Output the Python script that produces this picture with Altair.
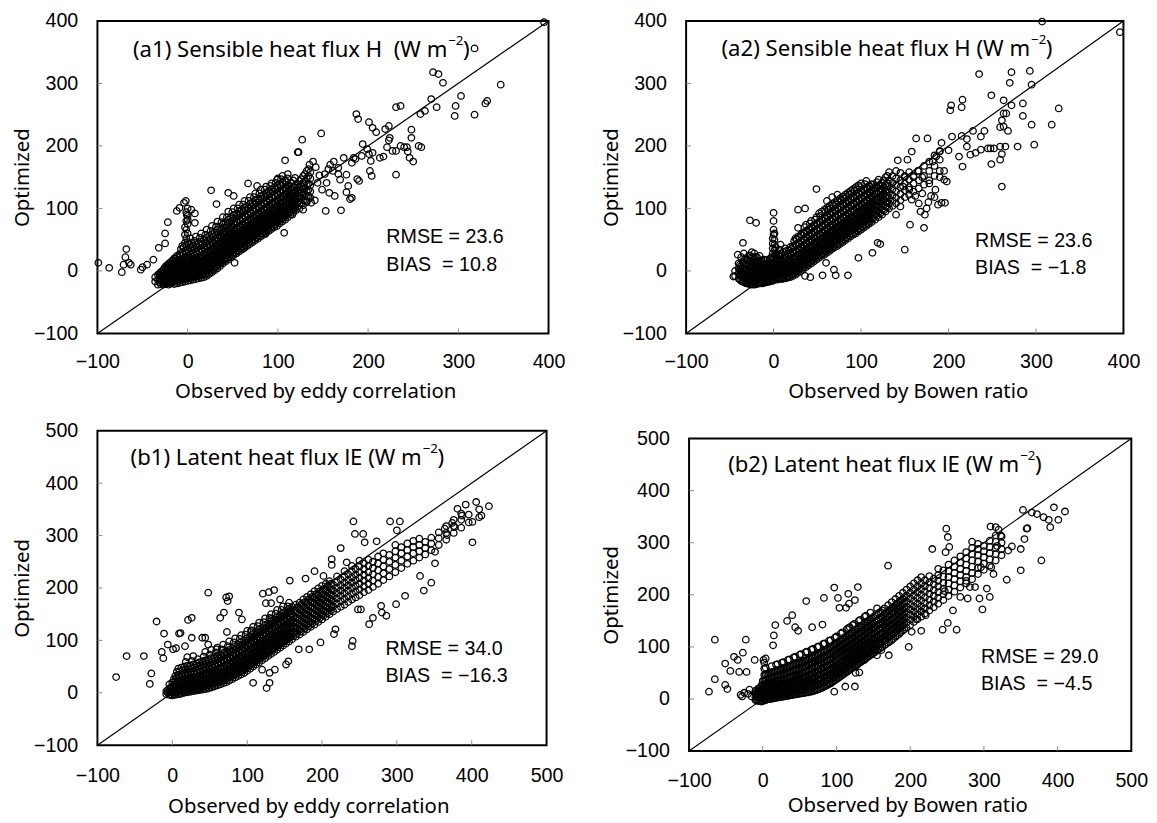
import altair as alt
import pandas as pd

# ---------------- data ----------------
# dense cores given as (observed x, [optimized y values ...]) columns; sparse points as (x, y) pairs
a1_core = [
    (-36, [-17, -10]), (-33, [-22, -14, -6]), (-30, [-21, -15, -8, -2]),
    (-27, [-22, -17, -11, -5, 2]), (-24, [-21, -16, -10, -4, 3, 8]),
    (-21, [-22, -18, -12, -6, 0, 6, 12]), (-18, [-20, -15, -9, -3, 3, 9, 15]),
    (-15, [-21, -16, -11, -5, 1, 7, 13, 20]), (-12, [-20, -14, -8, -2, 4, 10, 16, 24]),
    (-9, [-19, -13, -7, -1, 5, 11, 18, 27]), (-6, [-18, -12, -6, 0, 6, 12, 19, 30, 40]),
    (-3, [-17, -11, -5, 1, 7, 14, 22, 32, 45, 58, 70]),
    (0, [-16, -10, -4, 2, 9, 16, 24, 34, 46, 60, 75, 88, 100]),
    (3, [-15, -9, -3, 3, 10, 18, 27, 38, 52]), (6, [-14, -8, -2, 4, 11, 19, 28, 40]),
    (9, [-13, -7, -1, 6, 13, 21, 30, 42, 55]), (12, [-12, -6, 0, 7, 14, 22, 32, 44]),
    (15, [-11, -4, 3, 10, 17, 25, 35, 47, 60]), (18, [-10, -3, 4, 11, 19, 27, 37, 50]),
    (21, [-8, -1, 6, 13, 21, 30, 40, 53, 66]), (24, [-5, 2, 9, 16, 24, 33, 43, 56]),
    (27, [-2, 5, 12, 19, 27, 36, 46, 59, 72]), (30, [1, 8, 15, 22, 30, 39, 49, 62]),
    (33, [4, 11, 18, 26, 34, 43, 53, 66, 79]), (36, [8, 15, 22, 30, 38, 47, 57, 70]),
    (39, [12, 19, 26, 34, 42, 51, 61, 74, 86]), (42, [15, 22, 30, 38, 46, 55, 65, 78]),
    (45, [18, 26, 34, 42, 50, 59, 69, 82, 95]), (48, [22, 30, 38, 46, 54, 63, 73, 86]),
    (51, [25, 33, 41, 49, 57, 66, 76, 89, 100]), (54, [28, 36, 44, 52, 60, 69, 79, 92]),
    (57, [31, 39, 47, 55, 63, 72, 82, 95, 106]), (60, [34, 42, 50, 58, 66, 75, 85, 98]),
    (63, [37, 45, 53, 61, 69, 78, 88, 101, 112]), (66, [40, 48, 56, 64, 72, 81, 91, 104]),
    (69, [43, 51, 59, 67, 75, 84, 94, 107, 118]), (72, [46, 54, 62, 70, 78, 87, 97, 110]),
    (75, [49, 57, 65, 73, 81, 90, 100, 113, 124]), (78, [52, 60, 68, 76, 84, 93, 103, 116]),
    (81, [55, 63, 71, 79, 87, 96, 106, 119, 130]), (84, [58, 66, 74, 82, 90, 99, 109, 122]),
    (87, [61, 69, 77, 85, 93, 102, 112, 125, 135]), (90, [64, 72, 80, 88, 96, 105, 115, 128]),
    (93, [67, 75, 83, 91, 99, 108, 118, 131, 140]), (96, [70, 78, 86, 94, 102, 111, 121, 134]),
    (99, [72, 80, 88, 96, 104, 113, 123, 136, 146]), (102, [76, 84, 92, 100, 108, 117, 127, 139]),
    (105, [79, 87, 95, 103, 111, 120, 130, 142, 152]), (108, [82, 90, 98, 106, 114, 123, 133, 145]),
    (111, [86, 94, 102, 110, 118, 127, 137, 148]), (114, [90, 98, 106, 114, 122, 131, 141]),
    (117, [93, 101, 109, 117, 125, 134, 145]), (120, [97, 105, 113, 121, 129, 138]),
    (124, [100, 108, 116, 125, 134, 144]), (128, [105, 113, 122, 131, 141, 152]),
    (132, [110, 119, 128, 138, 149, 160]), (136, [117, 127, 137, 148, 158]),
]
a1_core_fill = [
    (-31.5, [-18, -11, -5]), (-28.5, [-19, -13, -8, -1]), (-25.5, [-19, -13, -7, -1, 5]),
    (-22.5, [-20, -14, -9, -3, 3, 9]), (-19.5, [-19, -13, -6, 0, 6, 12]),
    (-16.5, [-18, -13, -7, -1, 5, 11, 17]), (-13.5, [-17, -11, -5, 1, 7, 13, 20]),
    (-10.5, [-16, -10, -4, 2, 8, 14, 22]), (-7.5, [-15, -9, -3, 3, 9, 15, 24, 35]),
    (-4.5, [-14, -8, -2, 4, 10, 17, 26, 38]),
    (-1.5, [-13, -7, -1, 5, 12, 20, 29, 40, 52, 66, 80, 94]),
    (1.5, [-12, -6, 0, 6, 13, 21, 30, 42]), (4.5, [-11, -5, 1, 7, 14, 23, 33, 45]),
    (7.5, [-10, -4, 2, 9, 17, 25, 35, 48]), (10.5, [-9, -3, 4, 10, 18, 26, 37]),
    (13.5, [-8, -1, 6, 13, 21, 30, 41, 53]), (16.5, [-7, 0, 7, 14, 22, 31, 42]),
    (19.5, [-6, 2, 9, 17, 25, 34, 45, 58]), (22.5, [-3, 5, 12, 20, 28, 37, 48]),
    (25.5, [0, 8, 15, 23, 31, 40, 51, 64]), (28.5, [3, 11, 18, 26, 34, 44, 55]),
    (31.5, [6, 14, 22, 30, 38, 48, 58, 71]), (34.5, [10, 18, 26, 34, 42, 52, 62]),
    (37.5, [13, 21, 29, 37, 45, 55, 66, 78]), (40.5, [17, 25, 33, 41, 49, 59, 69]),
    (43.5, [20, 28, 36, 44, 53, 62, 73, 86]), (46.5, [24, 32, 40, 48, 57, 66, 77]),
    (49.5, [27, 35, 43, 52, 61, 70, 81, 94]), (52.5, [30, 38, 46, 55, 64, 74, 84]),
    (55.5, [33, 41, 49, 58, 67, 77, 88, 100]), (58.5, [36, 44, 52, 61, 70, 80, 91]),
    (61.5, [39, 47, 55, 64, 73, 83, 94, 106]), (64.5, [42, 50, 58, 67, 76, 86, 97]),
    (67.5, [45, 53, 61, 70, 79, 89, 100, 112]), (70.5, [48, 56, 64, 73, 82, 92, 103]),
    (73.5, [51, 59, 67, 76, 85, 95, 106, 118]), (76.5, [54, 62, 70, 79, 88, 98, 109]),
    (79.5, [57, 65, 73, 82, 91, 101, 112, 124]), (82.5, [60, 68, 76, 85, 94, 104, 115]),
    (85.5, [63, 71, 79, 88, 97, 107, 118, 130]), (88.5, [66, 74, 82, 91, 100, 110, 121]),
    (91.5, [69, 77, 85, 94, 103, 113, 124, 136]), (94.5, [72, 80, 88, 97, 106, 116, 127]),
    (97.5, [75, 83, 91, 100, 109, 119, 130, 141]), (100.5, [79, 87, 95, 104, 113, 122, 133]),
    (103.5, [82, 90, 98, 107, 116, 125, 136, 147]), (106.5, [85, 93, 101, 110, 119, 128, 139]),
    (109.5, [89, 97, 105, 114, 122, 132, 142]), (112.5, [93, 101, 109, 118, 127, 136]),
    (115.5, [96, 104, 112, 121, 130, 140]), (118.5, [100, 108, 117, 125, 134]),
    (122, [103, 112, 120, 130, 139]), (126, [108, 117, 126, 136, 147]),
    (130, [113, 122, 132, 143]), (134, [120, 130, 140, 152]),
]
a1_extra = [
    (-99, 13), (-87, 5), (-73, -2), (-71, 10), (-69, 22), (-68, 35), (-65, 13), (-63, 10),
    (-52, 2), (-50, 6), (-45, 10), (-38, 18), (-32, 37), (-25, 44), (-25, 60), (-22, 78),
    (-12, 96), (-9, 101), (-4, 109), (-2, 112), (-1, 90), (0, 82), (4, 98), (8, 92), (8, 77),
    (26, 129), (32, 107), (45, 125), (51, 120), (52, 13), (62, 36), (67, 140), (77, 136), (100, 148),
    (107, 61), (108, 177), (116, 90), (122, 190), (127, 210), (135, 170), (148, 220), (149, 130),
    (153, 96), (157, 125), (163, 120), (170, 97), (176, 126), (182, 117), (187, 251), (189, 243),
    (188, 147), (201, 238), (202, 160), (205, 229), (205, 189), (209, 222),
    (219, 227), (223, 232), (231, 154), (231, 262), (236, 264), (246, 181), (248, 226), (248, 213),
    (250, 175), (256, 200), (259, 198), (258, 251), (263, 256), (270, 275), (276, 262), (272, 318),
    (278, 315), (283, 301), (296, 248), (297, 264), (303, 280), (318, 250), (318, 356), (330, 268),
    (332, 272), (347, 298), (395, 398),
    (213, 181), (217, 183), (221, 198), (223, 209), (224, 213), (227, 192), (231, 192), (236, 200),
    (240, 198), (244, 191), (243, 198),
    (161, 160), (167, 165), (173, 181), (182, 173), (186, 179), (193, 184), (194, 203), (199, 195),
    (201, 187), (203, 176),
    (111, 155), (119, 149), (123, 190), (130, 155), (134, 163), (139, 175), (142, 166), (144, 141),
    (146, 153), (152, 155), (154, 141), (156, 163), (158, 170), (162, 175), (167, 155), (169, 146),
    (176, 154), (178, 136), (184, 181), (190, 144), (204, 152),
    (132, 112), (137, 109), (141, 113), (180, 115), (123, 117), (128, 98), (96, 85), (84, 64), (86, 59),
]

a2_core = [
    (-44, [-8, 0]), (-40, [-12, -4, 4, 12]), (-37, [-16, -8, 0, 8, 22]),
    (-34, [-18, -11, -4, 4, 12, 28]), (-31, [-20, -13, -6, 2, 10, 18]),
    (-28, [-21, -14, -7, 0, 8, 16, 25]), (-25, [-22, -15, -8, -1, 6, 14, 22, 30]),
    (-22, [-22, -15, -8, -1, 6, 13, 20, 28]), (-19, [-21, -14, -7, 0, 7, 14, 22]),
    (-16, [-20, -13, -6, 1, 8, 15, 24]), (-13, [-20, -13, -6, 1, 8, 16]),
    (-10, [-19, -12, -5, 2, 9, 17]), (-7, [-18, -11, -4, 3, 10, 18]),
    (-4, [-17, -10, -3, 4, 11, 19]), (-1, [-16, -9, -2, 5, 12, 20, 28, 36, 44, 52]),
    (1, [-14, -7, 0, 7, 15, 24, 33, 42, 50, 60]), (4, [-14, -7, 0, 7, 14, 22]),
    (7, [-13, -6, 1, 8, 15, 24, 34]), (10, [-13, -6, 1, 8, 16, 25]),
    (13, [-12, -5, 2, 9, 17, 26, 36]), (16, [-11, -4, 3, 10, 18, 27]),
    (19, [-10, -3, 4, 11, 19, 28, 38]), (22, [-8, -1, 6, 13, 21, 30, 40]),
    (25, [-6, 1, 8, 15, 23, 32, 42, 52]), (28, [-3, 4, 11, 18, 26, 35, 45, 55]),
    (31, [0, 7, 14, 21, 29, 38, 48, 58]), (34, [3, 10, 17, 24, 32, 41, 51, 61]),
    (37, [6, 13, 20, 27, 35, 44, 54, 64, 74]), (40, [9, 16, 23, 30, 38, 47, 57, 67]),
    (43, [12, 19, 26, 33, 41, 50, 60, 70, 80]), (46, [15, 22, 29, 36, 44, 53, 63, 73]),
    (49, [18, 25, 32, 39, 47, 56, 66, 76, 86]), (52, [21, 28, 35, 42, 50, 59, 69, 79, 92]),
    (55, [24, 31, 38, 45, 53, 62, 72, 82, 95]), (58, [26, 33, 40, 48, 56, 65, 75, 85, 98]),
    (61, [29, 36, 43, 51, 59, 68, 78, 88, 101, 112]), (64, [32, 39, 46, 54, 62, 71, 81, 91, 104]),
    (67, [35, 42, 49, 57, 65, 74, 84, 94, 107, 118]), (70, [38, 45, 52, 60, 68, 77, 87, 97, 110]),
    (73, [40, 48, 55, 63, 71, 80, 90, 100, 113, 122]), (76, [43, 51, 58, 66, 74, 83, 93, 103, 116]),
    (79, [46, 54, 61, 69, 77, 86, 96, 106, 119]), (82, [49, 57, 64, 72, 80, 89, 99, 109, 122]),
    (85, [52, 60, 67, 75, 83, 92, 102, 112, 125]), (88, [55, 63, 70, 78, 86, 95, 105, 115, 128]),
    (91, [58, 66, 73, 81, 89, 98, 108, 118, 131]), (94, [60, 68, 76, 84, 92, 101, 111, 121, 134]),
    (97, [63, 71, 79, 87, 95, 104, 114, 124, 137]), (100, [66, 74, 82, 90, 98, 107, 117, 127, 140]),
    (103, [69, 77, 85, 93, 101, 110, 120, 130]), (106, [72, 80, 88, 96, 104, 113, 123, 133, 144]),
    (109, [75, 83, 91, 99, 107, 116, 126, 136]), (112, [78, 86, 94, 102, 110, 119, 129, 139]),
    (116, [82, 90, 98, 106, 114, 123, 133]), (120, [86, 94, 102, 110, 118, 127, 137, 146]),
    (124, [90, 98, 106, 114, 122, 131, 141]), (128, [95, 103, 111, 119, 128, 138, 150]),
    (132, [100, 108, 116, 125, 135, 145, 158]), (136, [104, 112, 121, 131, 141, 152]),
    (140, [108, 117, 127, 137, 148, 160]), (145, [113, 123, 134, 145, 157]),
    (150, [118, 129, 140, 152]), (155, [122, 134, 146, 158]), (160, [127, 140, 152]),
    (166, [132, 145, 160]), (172, [138, 152, 168]), (178, [145, 160, 175]),
    (184, [152, 168, 185]), (190, [160, 178, 192]),
]
a2_core_fill = [
    (-38.5, [-14, -6, 2, 10]), (-35.5, [-17, -9, -2, 6, 15]), (-32.5, [-19, -12, -5, 3, 11, 20]),
    (-29.5, [-20, -13, -6, 1, 9, 17]), (-26.5, [-21, -14, -7, 0, 7, 15, 24]),
    (-23.5, [-21, -14, -7, 0, 7, 14, 22]), (-20.5, [-20, -13, -6, 1, 8, 15, 23]),
    (-17.5, [-20, -13, -6, 1, 8, 16]), (-14.5, [-19, -12, -5, 2, 9, 17]),
    (-11.5, [-18, -11, -4, 3, 10, 18]), (-8.5, [-17, -10, -3, 4, 11]), (-5.5, [-16, -9, -2, 5, 12]),
    (-2.5, [-15, -8, -1, 6, 13, 22]), (2.5, [-13, -6, 1, 8, 16, 25, 38]),
    (5.5, [-12, -5, 2, 9, 17, 26]), (8.5, [-12, -5, 2, 10, 18, 28]), (11.5, [-11, -4, 3, 11, 20, 30]),
    (14.5, [-10, -3, 5, 13, 22, 32]), (17.5, [-9, -2, 6, 14, 23, 33]), (20.5, [-6, 1, 9, 17, 26, 36]),
    (23.5, [-4, 3, 11, 19, 28, 38, 48]), (26.5, [-1, 6, 14, 22, 31, 41, 51]),
    (29.5, [2, 9, 17, 25, 34, 44, 54]), (32.5, [5, 12, 20, 28, 37, 47, 57]),
    (35.5, [8, 15, 23, 31, 40, 50, 60, 70]), (38.5, [11, 18, 26, 34, 43, 53, 63]),
    (41.5, [14, 21, 29, 37, 46, 56, 66, 76]), (44.5, [17, 24, 32, 40, 49, 59, 69]),
    (47.5, [20, 27, 35, 43, 52, 62, 72, 82]), (50.5, [23, 30, 38, 46, 55, 65, 75]),
    (53.5, [26, 33, 41, 49, 58, 68, 78, 88]), (56.5, [28, 36, 44, 52, 61, 71, 81]),
    (59.5, [31, 39, 47, 55, 64, 74, 84, 94]), (62.5, [34, 42, 50, 58, 67, 77, 87, 98]),
    (65.5, [37, 45, 53, 61, 70, 80, 90, 100]), (68.5, [40, 48, 56, 64, 73, 83, 93, 104]),
    (71.5, [42, 50, 58, 67, 76, 86, 96, 106]), (74.5, [45, 53, 61, 70, 79, 89, 99, 110]),
    (77.5, [48, 56, 64, 73, 82, 92, 102, 112]), (80.5, [51, 59, 67, 76, 85, 95, 105, 116]),
    (83.5, [54, 62, 70, 79, 88, 98, 108, 118]), (86.5, [57, 65, 73, 82, 91, 101, 111, 122]),
    (89.5, [60, 68, 76, 85, 94, 104, 114, 124]), (92.5, [62, 71, 79, 88, 97, 107, 117, 128]),
    (95.5, [65, 74, 82, 91, 100, 110, 120, 130]), (98.5, [68, 77, 85, 94, 103, 113, 123, 134]),
    (101.5, [71, 80, 88, 97, 106, 116, 126]), (104.5, [74, 83, 91, 100, 109, 119, 129, 139]),
    (107.5, [77, 86, 94, 103, 112, 122, 132]), (110.5, [80, 89, 97, 106, 115, 125, 135]),
    (114, [84, 93, 101, 110, 119, 129, 138]), (118, [88, 97, 105, 114, 123, 133, 142]),
    (122, [92, 101, 110, 119, 128, 137]), (126, [97, 106, 115, 124, 134, 145]),
    (130, [102, 111, 120, 130, 140, 152]),
]
a2_extra = [
    (307, 399), (396, 382), (235, 315), (249, 281), (272, 318), (270, 301), (293, 320), (295, 298),
    (202, 257), (203, 265), (216, 274), (215, 262), (263, 273), (272, 265), (285, 268), (326, 260),
    (318, 234), (295, 234), (261, 241), (263, 252), (266, 252), (259, 230), (268, 224), (263, 231),
    (285, 248), (298, 202), (279, 199), (265, 199), (259, 199), (252, 196), (248, 196), (245, 196),
    (237, 194), (249, 171), (261, 187), (259, 178), (261, 135), (216, 167), (231, 189), (221, 199),
    (225, 186), (212, 183), (228, 224), (237, 215), (241, 224), (221, 211), (215, 216), (204, 215),
    (200, 193), (192, 205), (190, 191), (186, 183), (182, 175), (198, 143), (195, 146), (192, 109),
    (196, 109), (188, 106), (176, 212), (163, 212), (158, 191), (153, 178), (142, 177), (170, 124),
    (172, 69), (158, 114), (156, 74), (150, 34), (145, 103), (140, 90),
    (122, 43), (119, 45), (113, 29), (97, 21), (85, -7), (71, -7), (69, 2), (56, -7), (60, 13),
    (42, -10), (36, -8), (28, 98), (36, 100), (28, 69), (49, 131),
    (-27, 81), (-20, 77), (-35, 45), (-41, 26), (-46, -9),
    (0, 93), (0, 80), (0, 66), (0, 58), (8, 42),
    (165, 160), (170, 150), (178, 140), (185, 130), (175, 100), (168, 95), (180, 120), (190, 150),
    (195, 160), (160, 150), (150, 150), (148, 135), (155, 130), (162, 120), (166, 108), (173, 90),
    (177, 110), (184, 118),
]

b1_core = [
    (-8, [-3, 3]), (-4, [-4, 2, 8, 16]), (0, [-5, 0, 6, 12, 20]), (4, [-4, 2, 8, 14, 22, 32]),
    (8, [-3, 3, 9, 16, 24, 34, 46]), (12, [-2, 4, 10, 17, 25, 35, 48]),
    (16, [0, 6, 12, 19, 27, 37, 50]), (20, [1, 7, 13, 20, 28, 38, 52, 68]),
    (24, [2, 8, 14, 21, 29, 39, 52]), (28, [3, 9, 15, 22, 30, 40, 54, 70]),
    (32, [4, 10, 16, 23, 31, 42, 56]), (36, [5, 11, 17, 24, 33, 44, 58]),
    (40, [6, 12, 18, 26, 35, 46, 60]), (44, [7, 13, 20, 28, 37, 48, 62, 78]),
    (48, [8, 15, 22, 30, 39, 50, 64]), (52, [10, 17, 24, 32, 41, 52, 66, 82]),
    (56, [12, 19, 26, 34, 43, 54, 68]), (60, [14, 21, 28, 36, 45, 56, 70, 86]),
    (64, [16, 23, 30, 38, 48, 59, 73]), (68, [18, 25, 33, 41, 51, 62, 76, 92]),
    (72, [20, 28, 36, 44, 54, 65, 79]), (76, [23, 31, 39, 47, 57, 68, 82, 98]),
    (80, [26, 34, 42, 50, 60, 71, 85]), (84, [29, 37, 45, 54, 64, 75, 89, 104]),
    (88, [32, 40, 48, 57, 67, 78, 92]), (92, [35, 43, 52, 61, 71, 82, 96, 110]),
    (96, [38, 47, 56, 65, 75, 86, 100]), (100, [42, 51, 60, 69, 79, 90, 104, 118]),
    (104, [46, 55, 64, 73, 83, 94, 108]), (108, [50, 59, 68, 77, 87, 98, 112, 126]),
    (112, [54, 63, 72, 81, 91, 102, 116]), (116, [58, 67, 76, 85, 95, 106, 120, 134]),
    (120, [62, 71, 80, 89, 99, 110, 124]), (124, [66, 75, 84, 93, 103, 114, 128, 142]),
    (128, [70, 79, 88, 97, 107, 118, 132]), (132, [74, 83, 92, 101, 111, 122, 136, 150]),
    (136, [78, 87, 96, 105, 115, 126, 140]), (140, [82, 91, 100, 109, 119, 130, 144, 158]),
    (144, [86, 95, 104, 113, 123, 134, 148]), (148, [90, 99, 108, 117, 127, 138, 152, 165]),
    (152, [94, 103, 112, 121, 131, 142, 156]), (156, [98, 107, 116, 125, 135, 146, 160, 172]),
    (160, [102, 111, 120, 129, 139, 150, 164]), (165, [107, 116, 125, 134, 144, 155, 168]),
    (170, [111, 120, 129, 139, 149, 160, 172]), (175, [116, 125, 134, 144, 154, 165, 178]),
    (180, [121, 130, 139, 149, 159, 170, 183]), (185, [126, 135, 144, 154, 164, 175, 188]),
    (190, [130, 140, 150, 160, 170, 181, 194]), (195, [135, 145, 155, 165, 175, 186, 199]),
    (200, [140, 150, 160, 170, 180, 191, 204]), (205, [145, 155, 165, 175, 185, 196, 208]),
    (210, [150, 160, 170, 180, 190, 201, 213]), (215, [155, 165, 175, 185, 195, 206]),
    (220, [160, 170, 180, 190, 200, 211, 222]), (225, [164, 175, 185, 195, 205, 216]),
    (230, [168, 179, 190, 200, 210, 221, 232]), (235, [173, 184, 195, 205, 215, 226]),
    (240, [178, 189, 200, 210, 220, 231, 242]), (245, [182, 193, 204, 215, 225, 236]),
    (250, [186, 197, 208, 219, 230, 241, 252]), (256, [192, 203, 214, 225, 236, 247]),
    (262, [196, 208, 219, 230, 242, 254]), (268, [202, 214, 226, 238, 250]),
    (275, [208, 221, 234, 247, 260]), (282, [215, 228, 241, 254, 266]),
    (290, [222, 236, 250, 263]), (298, [230, 244, 258, 270, 282]),
    (306, [238, 252, 266, 278]), (314, [246, 260, 272, 285]), (322, [252, 266, 278, 290]),
    (330, [258, 270, 282, 294]), (338, [264, 276, 288]), (346, [272, 285, 296]),
    (356, [282, 295, 306]), (366, [292, 305, 318]), (376, [305, 318, 330]),
    (386, [315, 330, 342]), (396, [325, 340]), (410, [335, 350]),
]
b1_core_fill = [
    (-6, [0, 5]), (-2, [-3, 3, 10]), (2, [-3, 3, 9, 16, 26]), (6, [-2, 5, 11, 19, 28, 40]),
    (10, [-1, 6, 13, 20, 30, 41]), (14, [1, 8, 15, 22, 31, 43]), (18, [2, 9, 16, 24, 33, 44, 59]),
    (22, [4, 11, 17, 25, 34, 45]), (26, [5, 12, 18, 26, 35, 47, 61]), (30, [6, 13, 19, 27, 36, 48]),
    (34, [7, 14, 20, 29, 38, 50, 64]), (38, [8, 15, 21, 30, 39, 51]),
    (42, [9, 16, 23, 32, 42, 54, 69]), (46, [11, 18, 26, 34, 44, 56]),
    (50, [13, 20, 28, 36, 46, 58, 73]), (54, [15, 22, 30, 38, 48, 60]),
    (58, [17, 24, 32, 40, 50, 62, 77]), (62, [19, 26, 34, 43, 53, 65]),
    (66, [21, 29, 37, 46, 56, 68, 83]), (70, [24, 32, 40, 49, 59, 71]),
    (74, [27, 35, 43, 52, 62, 74, 89]), (78, [30, 38, 46, 55, 65, 77]),
    (82, [33, 41, 49, 59, 69, 81, 96]), (86, [36, 44, 52, 62, 72, 84]),
    (90, [39, 47, 56, 66, 76, 88, 103]), (94, [42, 51, 60, 70, 80, 92]),
    (98, [46, 55, 64, 74, 84, 96, 111]), (102, [50, 59, 68, 78, 88, 100]),
    (106, [54, 63, 72, 82, 92, 104, 119]), (110, [58, 67, 76, 86, 96, 108]),
    (114, [62, 71, 80, 90, 100, 112, 127]), (118, [66, 75, 84, 94, 104, 116]),
    (122, [70, 79, 88, 98, 108, 120, 135]), (126, [74, 83, 92, 102, 112, 124]),
    (130, [78, 87, 96, 106, 116, 128, 143]), (134, [82, 91, 100, 110, 120, 132]),
    (138, [86, 95, 104, 114, 124, 136, 151]), (142, [90, 99, 108, 118, 128, 140]),
    (146, [94, 103, 112, 122, 132, 144, 158]), (150, [98, 107, 116, 126, 136, 148]),
    (154, [102, 111, 120, 130, 140, 152, 165]), (158, [106, 115, 124, 134, 144, 156]),
    (162, [108, 118, 127, 137, 147, 158]), (167, [113, 122, 132, 142, 152, 163]),
    (172, [117, 127, 137, 147, 157, 168]), (177, [122, 132, 142, 152, 162, 173]),
    (182, [127, 137, 147, 157, 167, 178]), (187, [132, 142, 152, 162, 172, 183]),
    (192, [137, 147, 157, 167, 177, 188]), (197, [142, 152, 162, 172, 182, 193]),
    (202, [147, 157, 167, 177, 187, 198]), (207, [152, 162, 172, 182, 192, 203]),
    (212, [157, 167, 177, 187, 197, 208]),
]
b1_extra = [
    (-75, 30), (-61, 70), (-38, 70), (-28, 37), (-30, 17), (-21, 136), (-11, 113), (-14, 78),
    (-12, 66), (-6, 92), (1, 83), (5, 85), (9, 113), (11, 114), (17, 89), (21, 139), (26, 143),
    (26, 105), (40, 105), (44, 105), (48, 191), (48, 92), (59, 83), (64, 143), (72, 182), (74, 175),
    (76, 184), (69, 153), (73, 116), (89, 153), (93, 140), (105, 118),
    (121, 189), (129, 192), (136, 196), (125, 171), (132, 171), (144, 178), (157, 214), (132, 141),
    (126, 9), (130, 19), (130, 38), (120, 44), (137, 44), (152, 54), (155, 60), (108, 19),
    (169, 83), (183, 83), (198, 96),
    (178, 218), (190, 232), (202, 223), (213, 163), (216, 112), (218, 121), (225, 276), (213, 255),
    (213, 244), (233, 249), (240, 89), (241, 99),
    (242, 327), (244, 303), (255, 303), (257, 287), (248, 159), (252, 159), (263, 131), (268, 143),
    (273, 289), (280, 153), (279, 166), (291, 327), (304, 327), (300, 310), (299, 169), (311, 185),
    (286, 147), (331, 223), (336, 195), (346, 210), (351, 247), (351, 269),
    (364, 313), (374, 324), (381, 351), (392, 359), (406, 364), (423, 356), (413, 338), (401, 326),
    (401, 287), (367, 301), (377, 316), (387, 338),
]

b2_core = [
    (-10, [-2, 4, 10, 16]), (-6, [-4, 2, 8, 14, 20]), (-2, [-5, 1, 7, 13, 19, 26]),
    (2, [-3, 3, 9, 15, 21, 28, 36, 46, 58, 70]), (6, [-1, 5, 11, 17, 23, 30, 38, 48]),
    (10, [0, 6, 12, 18, 24, 31, 40, 50]), (14, [1, 7, 13, 19, 25, 32, 42, 52]),
    (18, [2, 8, 14, 20, 26, 34, 43, 54, 66]), (22, [3, 9, 15, 21, 28, 35, 45, 56]),
    (26, [4, 10, 16, 22, 29, 37, 47, 58, 70]), (30, [5, 11, 17, 23, 30, 38, 48, 60]),
    (34, [6, 12, 18, 25, 32, 40, 50, 62, 75]), (38, [7, 13, 19, 26, 33, 42, 52, 64]),
    (42, [8, 14, 20, 27, 35, 44, 54, 66, 80]), (46, [9, 15, 22, 29, 37, 46, 56, 68]),
    (50, [10, 16, 23, 31, 39, 48, 58, 70, 85]), (54, [11, 17, 25, 33, 41, 50, 60, 72]),
    (58, [12, 19, 27, 35, 43, 52, 62, 74, 90]), (62, [13, 21, 29, 37, 45, 55, 65, 77]),
    (66, [14, 23, 31, 39, 48, 58, 68, 80, 95]), (70, [16, 25, 33, 42, 51, 61, 71, 83]),
    (74, [18, 27, 36, 45, 54, 64, 74, 86, 100]), (78, [20, 29, 38, 47, 57, 67, 77, 89]),
    (82, [23, 32, 41, 50, 60, 70, 80, 92, 106]), (86, [26, 35, 44, 53, 63, 73, 83, 95]),
    (90, [29, 38, 47, 56, 66, 76, 86, 98, 112]), (94, [32, 41, 50, 59, 69, 79, 89, 101]),
    (98, [36, 45, 54, 63, 73, 83, 93, 105, 118]), (102, [40, 49, 58, 67, 77, 87, 97, 109]),
    (106, [44, 53, 62, 71, 81, 91, 101, 113, 126]), (110, [48, 57, 66, 75, 85, 95, 105, 117]),
    (114, [52, 61, 70, 79, 89, 99, 109, 121, 134]), (118, [56, 65, 74, 83, 93, 103, 113, 125]),
    (122, [60, 69, 78, 87, 97, 107, 117, 129, 142]), (126, [64, 73, 82, 91, 101, 111, 121, 133]),
    (130, [68, 77, 86, 95, 105, 115, 125, 137, 150]), (134, [72, 81, 90, 99, 109, 119, 129, 141]),
    (138, [76, 85, 94, 103, 113, 123, 133, 145, 158]), (142, [80, 89, 98, 107, 117, 127, 137, 149]),
    (146, [84, 93, 102, 111, 121, 131, 141, 153, 166]), (150, [88, 97, 106, 115, 125, 135, 145, 157]),
    (155, [93, 102, 111, 120, 130, 140, 150, 162, 174]), (160, [98, 107, 116, 125, 135, 145, 155, 167]),
    (165, [103, 112, 121, 131, 141, 151, 162, 174]), (170, [108, 117, 127, 137, 147, 157, 168, 180]),
    (175, [113, 123, 133, 143, 153, 163, 174, 186]), (180, [119, 129, 139, 149, 159, 169, 180, 192]),
    (185, [125, 135, 145, 155, 165, 175, 186, 198]), (190, [131, 141, 151, 161, 171, 181, 192, 204]),
    (195, [137, 147, 157, 167, 177, 187, 198, 210]), (200, [142, 152, 162, 172, 182, 193, 204, 216]),
    (205, [148, 158, 168, 178, 188, 199, 210, 222]), (210, [153, 163, 173, 183, 194, 205, 216, 228]),
    (215, [158, 168, 178, 189, 200, 211, 222, 234]), (220, [164, 174, 184, 195, 206, 217, 228]),
    (226, [170, 180, 191, 202, 213, 224, 236]), (232, [176, 187, 198, 209, 220, 231]),
    (238, [183, 194, 205, 216, 227, 238, 250]), (245, [190, 201, 212, 223, 235, 247]),
    (252, [198, 210, 222, 234, 246, 258]), (260, [206, 218, 230, 242, 254, 266]),
    (268, [214, 226, 238, 250, 262, 274]), (276, [222, 234, 246, 258, 270, 282]),
    (284, [230, 242, 254, 266, 278, 290, 302]), (292, [240, 252, 264, 276, 288, 298]),
    (300, [248, 260, 272, 284, 294]), (308, [256, 268, 280, 292, 304]),
    (316, [266, 278, 290, 302, 314]), (324, [276, 288, 300, 312]),
]
b2_core_fill = [
    (-8, [-3, 3, 9, 15]), (-4, [-4, 2, 8, 14, 21]), (0, [-4, 2, 8, 14, 20, 27, 35]),
    (4, [-2, 4, 10, 16, 22, 29, 37, 47, 60]), (8, [0, 6, 12, 18, 24, 31, 39, 49]),
    (12, [1, 7, 13, 19, 25, 32, 41, 51, 63]), (16, [2, 8, 14, 20, 26, 33, 43, 53]),
    (20, [3, 9, 15, 21, 27, 35, 44, 55, 67]), (24, [4, 10, 16, 22, 29, 36, 46, 57]),
    (28, [5, 11, 17, 23, 30, 38, 47, 59, 71]), (32, [6, 12, 18, 24, 31, 39, 49, 61]),
    (36, [7, 13, 19, 26, 33, 41, 51, 63, 76]), (40, [8, 14, 20, 27, 34, 43, 53, 65]),
    (44, [9, 15, 21, 28, 36, 45, 55, 67, 81]), (48, [10, 16, 23, 30, 38, 47, 57, 69]),
    (52, [11, 17, 24, 32, 40, 49, 59, 71, 86]), (56, [12, 18, 26, 34, 42, 51, 61, 73]),
    (60, [13, 20, 28, 36, 44, 53, 63, 75, 91]), (64, [14, 22, 30, 38, 47, 56, 66, 78]),
    (68, [15, 24, 32, 40, 49, 59, 69, 81, 96]), (72, [17, 26, 34, 43, 52, 62, 72, 84]),
    (76, [19, 28, 37, 46, 55, 65, 75, 87, 101]), (80, [21, 30, 39, 48, 58, 68, 78, 90]),
    (84, [24, 33, 42, 51, 61, 71, 81, 93, 107]), (88, [27, 36, 45, 54, 64, 74, 84, 96]),
    (92, [30, 39, 48, 57, 67, 77, 87, 99, 113]), (96, [34, 43, 52, 61, 71, 81, 91, 103]),
    (100, [38, 47, 56, 65, 75, 85, 95, 107, 120]), (104, [42, 51, 60, 69, 79, 89, 99, 111]),
    (108, [46, 55, 64, 73, 83, 93, 103, 115, 128]), (112, [50, 59, 68, 77, 87, 97, 107, 119]),
    (116, [54, 63, 72, 81, 91, 101, 111, 123, 136]), (120, [58, 67, 76, 85, 95, 105, 115, 127]),
    (124, [62, 71, 80, 89, 99, 109, 119, 131, 144]), (128, [66, 75, 84, 93, 103, 113, 123, 135]),
    (132, [70, 79, 88, 97, 107, 117, 127, 139, 152]), (136, [74, 83, 92, 101, 111, 121, 131, 143]),
    (140, [78, 87, 96, 105, 115, 125, 135, 147, 160]), (144, [82, 91, 100, 109, 119, 129, 139, 151]),
    (148, [86, 95, 104, 113, 123, 133, 143, 155]), (152, [90, 100, 109, 118, 128, 138, 148, 160]),
    (157, [95, 105, 114, 123, 133, 143, 153, 165]), (162, [100, 110, 119, 128, 138, 148, 158, 170]),
    (167, [105, 115, 124, 134, 144, 154, 165]), (172, [110, 120, 130, 140, 150, 160, 171]),
    (177, [116, 126, 136, 146, 156, 166, 177]), (182, [122, 132, 142, 152, 162, 172, 183]),
    (187, [128, 138, 148, 158, 168, 178, 189]), (192, [134, 144, 154, 164, 174, 184, 195]),
]
b2_extra = [
    (-73, 14), (-65, 38), (-65, 114), (-51, 68), (-51, 27), (-48, 19), (-44, 54), (-39, 81),
    (-34, 75), (-30, 8), (-32, 52), (-27, 89), (-23, 114), (-22, 52), (-11, 75), (1, 75), (4, 78),
    (-25, 12), (-20, 10), (-15, 5), (-18, 18), (-28, 5),
    (17, 142), (15, 122), (14, 103), (33, 150), (40, 161), (59, 188), (44, 138), (48, 131),
    (67, 138), (81, 143), (83, 194), (97, 214), (102, 194), (104, 175), (113, 175), (117, 183),
    (129, 215), (116, 202), (125, 190), (118, 138),
    (97, 14), (112, 24), (125, 24), (126, 50), (131, 51), (138, 75), (155, 84), (161, 94),
    (171, 84), (170, 256), (198, 100), (202, 129), (215, 131), (208, 153), (221, 161),
    (244, 133), (251, 146), (263, 133), (258, 170), (247, 207), (249, 327), (251, 311), (253, 292),
    (268, 196), (278, 193), (281, 215), (294, 193), (298, 172), (288, 215), (304, 212), (308, 196),
    (310, 253), (313, 240), (331, 229), (333, 285), (338, 293), (350, 247), (350, 288), (355, 307),
    (378, 266), (309, 331), (316, 330), (320, 325), (323, 314), (318, 294), (353, 363), (358, 327),
    (365, 358), (372, 355), (381, 349), (388, 344), (395, 368), (401, 344), (410, 360), (390, 330),
    (359, 328), (276, 227), (296, 253), (248, 282), (230, 288),
]

a_ticks = [-100, 0, 100, 200, 300, 400]
b_ticks = [-100, 0, 100, 200, 300, 400, 500]

LABEL_FONT = "Liberation Sans, Arial, sans-serif"
TITLE_FONT = "Noto Sans, DejaVu Sans, sans-serif"
NB = "\u00a0"


def build_df(cores, extra):
    xs, ys = [], []
    for core in cores:
        for x, col in core:
            for y in col:
                xs.append(x)
                ys.append(y)
    for x, y in extra:
        xs.append(x)
        ys.append(y)
    return pd.DataFrame({"x": xs, "y": ys})


def text_layer(s, x, y, font, size, align="left"):
    return alt.Chart(pd.DataFrame({"t": [s]})).mark_text(
        font=font, fontSize=size, align=align, baseline="middle", color="black"
    ).encode(text="t:N", x=alt.value(x), y=alt.value(y))


def panel(df, ticks, xtitle, title_main, m_end, title_y, rmse, bias, stat_x, stat_y,
          w, h, ytitle_pad, xlabel_pad, xtitle_pad, xtitle_dx):
    lo, hi = ticks[0], ticks[-1]
    sx = alt.Scale(domain=[lo, hi], nice=False, zero=False)
    sy = alt.Scale(domain=[lo, hi], nice=False, zero=False)
    ax = alt.Axis(values=ticks, title=xtitle, grid=False, ticks=False, tickSize=0, domain=False,
                  labelFlush=False, labelOverlap=False, labelFont=LABEL_FONT, labelFontSize=20,
                  labelColor="black", labelPadding=xlabel_pad, titleFont=TITLE_FONT,
                  titleFontSize=20.7, titleFontWeight="normal", titleColor="black",
                  titlePadding=xtitle_pad, titleX=w / 2 + xtitle_dx)
    ay = alt.Axis(values=ticks, title="Optimized", grid=False, ticks=False, tickSize=0, domain=False,
                  labelFlush=False, labelOverlap=False, labelFont=LABEL_FONT, labelFontSize=20,
                  labelColor="black", labelPadding=20, titleFont=TITLE_FONT, titleFontSize=20.7,
                  titleFontWeight="normal", titleColor="black", titlePadding=ytitle_pad)
    pts = alt.Chart(df).mark_point(shape="circle", filled=False, color="black", size=44,
                                   strokeWidth=1.3, opacity=1).encode(
        x=alt.X("x:Q", scale=sx, axis=ax), y=alt.Y("y:Q", scale=sy, axis=ay))
    diag = alt.Chart(pd.DataFrame({"x": [lo], "y": [lo], "x2": [hi], "y2": [hi]})).mark_rule(
        color="black", strokeWidth=1.2).encode(
        x=alt.X("x:Q", scale=sx, axis=ax), y=alt.Y("y:Q", scale=sy, axis=ay),
        x2="x2:Q", y2="y2:Q")
    inner = ticks[1:-1]
    xt = alt.Chart(pd.DataFrame({"x": inner})).mark_rule(color="#888888", strokeWidth=1).encode(
        x=alt.X("x:Q", scale=sx, axis=ax), y=alt.value(h), y2=alt.value(h - 5))
    yt = alt.Chart(pd.DataFrame({"y": inner})).mark_rule(color="#888888", strokeWidth=1).encode(
        y=alt.Y("y:Q", scale=sy, axis=ay), x=alt.value(0), x2=alt.value(5))
    texts = [
        text_layer(title_main, m_end, title_y, TITLE_FONT, 22.5, align="right"),
        text_layer("\u22122", m_end + 1, title_y - 9, TITLE_FONT, 13.5),
        text_layer(")", m_end + 16, title_y, TITLE_FONT, 22.5),
        text_layer("RMSE = " + rmse, stat_x, stat_y, LABEL_FONT, 20),
        text_layer("BIAS" + NB + " = " + bias, stat_x, stat_y + 28, LABEL_FONT, 20),
    ]
    return alt.layer(pts, diag, xt, yt, *texts).properties(width=w, height=h)


a1 = panel(build_df([a1_core, a1_core_fill], a1_extra), a_ticks, "Observed by eddy correlation",
           "(a1) Sensible heat flux H" + NB + " (W m", 356, 30, "23.6", "10.8", 294, 220,
           459, 318, 1, 19, 10, -8)
a2 = panel(build_df([a2_core, a2_core_fill], a2_extra), a_ticks, "Observed by Bowen ratio",
           "(a2) Sensible heat flux H (W m", 350, 29, "23.6", "\u22121.8", 294, 224,
           445, 318, 1, 19, 10, 3)
b1 = panel(build_df([b1_core, b1_core_fill], b1_extra), b_ticks, "Observed by eddy correlation",
           "(b1) Latent heat flux lE (W m", 330, 28, "34.0", "\u221216.3", 293, 222,
           457, 320, 1, 21, 11, -14)
b2 = panel(build_df([b2_core, b2_core_fill], b2_extra), b_ticks, "Observed by Bowen ratio",
           "(b2) Latent heat flux lE (W m", 336, 27, "29.0", "\u22124.5", 297, 222,
           450, 318, 4, 20, 5, -3)
b2 = b2.properties(title=alt.TitleParams(" ", fontSize=2, offset=6))

chart = alt.concat(a1, a2, b1, b2, columns=2, align="none",
                   spacing={"row": 18, "column": 33}).properties(
    padding={"left": 2, "right": 0, "top": -5, "bottom": -3}, background="white"
).configure_view(stroke="black", strokeWidth=2)

chart.save("out.html", embed_options={"renderer": "svg", "actions": False})
